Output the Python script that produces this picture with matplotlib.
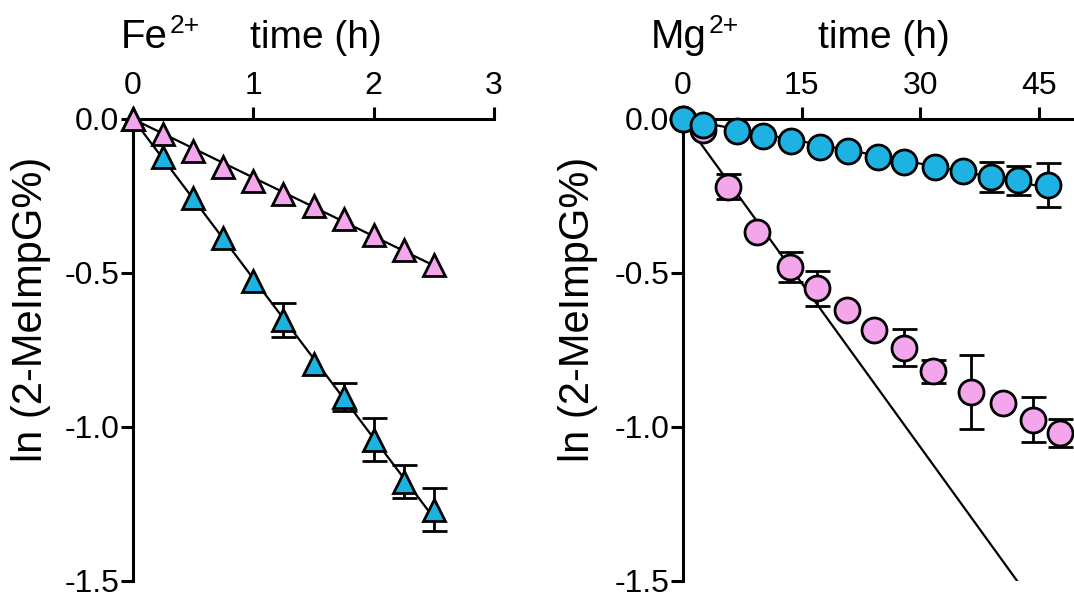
import matplotlib
matplotlib.use("Agg")
import matplotlib.pyplot as plt
import numpy as np

plt.rcParams["font.family"] = ["Liberation Sans", "DejaVu Sans"]

# ── Data ────────────────────────────────────────────────────
# Fe2+ panel (time in h)
fe_time = [0, 0.25, 0.5, 0.75, 1.0, 1.25, 1.5, 1.75, 2.0, 2.25, 2.5]
fe_pink = [0, -0.048, -0.103, -0.155, -0.200, -0.245, -0.284, -0.326, -0.377, -0.426, -0.474]
fe_pink_err = [0, 0, 0, 0, 0, 0, 0, 0, 0, 0, 0]
fe_blue = [0, -0.123, -0.258, -0.387, -0.526, -0.652, -0.797, -0.903, -1.042, -1.177, -1.268]
fe_blue_err = [0, 0, 0, 0, 0, 0.055, 0, 0.045, 0.07, 0.055, 0.07]

# Mg2+ panel (time in h)
mg_time_blue = [0, 2.5, 6.8, 10.1, 13.7, 17.3, 20.9, 24.6, 28.0, 31.8, 35.4, 39.0, 42.4, 46.2]
mg_blue = [0, -0.02, -0.04, -0.055, -0.073, -0.09, -0.105, -0.123, -0.138, -0.156, -0.17, -0.188, -0.199, -0.215]
mg_blue_err = [0, 0, 0, 0, 0, 0, 0, 0, 0, 0, 0, 0.048, 0.048, 0.072]
mg_time_pink = [0, 2.5, 5.7, 9.3, 13.5, 17.0, 20.7, 24.1, 27.9, 31.6, 36.4, 40.4, 44.2, 47.7]
mg_pink = [0, -0.035, -0.22, -0.368, -0.48, -0.55, -0.62, -0.684, -0.742, -0.819, -0.887, -0.923, -0.976, -1.02]
mg_pink_err = [0, 0, 0.04, 0, 0.048, 0.056, 0, 0, 0.06, 0.037, 0.12, 0, 0.072, 0.045]
mg_pink_initial_slope = -0.0355   # initial-rate fit line (per h)

yticks = [0.0, -0.5, -1.0, -1.5]
ytick_labels = ["0.0", "-0.5", "-1.0", "-1.5"]

PINK = "#F4A6EC"
BLUE = "#1EB2E2"


def origin_slope(x, y):
    x = np.asarray(x)
    y = np.asarray(y)
    return np.sum(x * y) / np.sum(x * x)


def style_axis(ax, xlim, xticks):
    ax.set_xlim(*xlim)
    ax.set_ylim(-1.5, 0)
    ax.xaxis.tick_top()
    ax.set_xticks(xticks)
    ax.set_yticks(yticks)
    ax.set_yticklabels(ytick_labels)
    for s in ("bottom", "right"):
        ax.spines[s].set_visible(False)
    for s in ("top", "left"):
        ax.spines[s].set_linewidth(2.2)
    ax.tick_params(axis="both", direction="out", length=9, width=2.2, labelsize=23)
    ax.tick_params(axis="x", pad=4)
    ax.tick_params(axis="y", pad=1)


def draw_series(ax, x, y, err, color, marker, size):
    x = np.asarray(x)
    y = np.asarray(y)
    err = np.asarray(err)
    m = err > 0
    if m.any():
        ax.errorbar(x[m], y[m], yerr=err[m], fmt="none", ecolor="black",
                    elinewidth=2, capsize=9, capthick=2, zorder=3, clip_on=False)
    ax.plot(x, y, linestyle="none", marker=marker, markersize=size,
            markerfacecolor=color, markeredgecolor="black", markeredgewidth=2,
            zorder=5, clip_on=False)


fig = plt.figure(figsize=(10.74, 6.0), dpi=100)
ax1 = fig.add_axes([133 / 1074, 19 / 600, 361 / 1074, 462 / 600])
ax2 = fig.add_axes([683 / 1074, 19 / 600, 391.5 / 1074, 462 / 600])

# ── Fe2+ panel ──
style_axis(ax1, (0, 3), [0, 1, 2, 3])
for ys in (fe_pink, fe_blue):
    k = origin_slope(fe_time, ys)
    xs = np.array([0, fe_time[-1]])
    ax1.plot(xs, k * xs, color="black", linewidth=1.6, zorder=2)
draw_series(ax1, fe_time, fe_blue, fe_blue_err, BLUE, "^", 16)
draw_series(ax1, fe_time, fe_pink, fe_pink_err, PINK, "^", 16)

# ── Mg2+ panel ──
style_axis(ax2, (0, 49.5), [0, 15, 30, 45])
k_blue = origin_slope(mg_time_blue, mg_blue)
xs = np.array([0, mg_time_blue[-1]])
ax2.plot(xs, k_blue * xs, color="black", linewidth=1.6, zorder=2)
xs = np.array([0, 49.5])
ax2.plot(xs, mg_pink_initial_slope * xs, color="black", linewidth=1.6, zorder=2)
draw_series(ax2, mg_time_pink, mg_pink, mg_pink_err, PINK, "o", 18)
draw_series(ax2, mg_time_blue, mg_blue, mg_blue_err, BLUE, "o", 18)

# ── Labels ──
ytop = 1 - 48 / 600
ysup = 1 - 33 / 600
fig.text(121 / 1074, ytop, "Fe", fontsize=29, va="baseline", ha="left")
fig.text(170 / 1074, ysup, "2+", fontsize=19, va="baseline", ha="left")
fig.text(316 / 1074, ytop, "time (h)", fontsize=28, va="baseline", ha="center")
fig.text(651 / 1074, ytop, "Mg", fontsize=29, va="baseline", ha="left")
fig.text(709 / 1074, ysup, "2+", fontsize=19, va="baseline", ha="left")
fig.text(884 / 1074, ytop, "time (h)", fontsize=28, va="baseline", ha="center")
for xc in (31, 578):
    fig.text(xc / 1074, 1 - 309 / 600, "ln (2-MeImpG%)", fontsize=30,
             rotation=90, va="center", ha="center")

fig.savefig("out.png", dpi=100)
